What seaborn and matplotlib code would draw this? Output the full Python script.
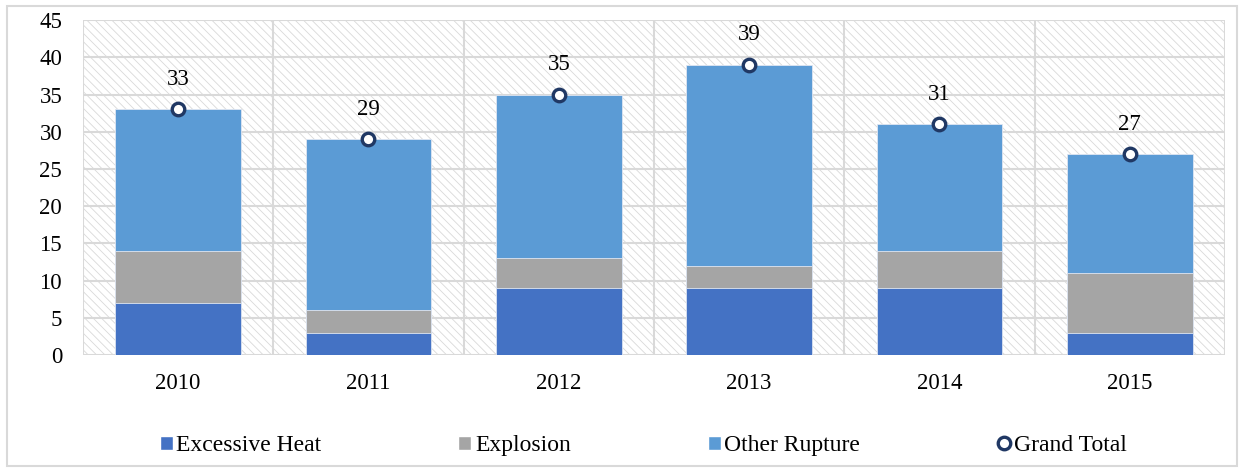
import matplotlib.pyplot as plt
import seaborn as sns
from matplotlib.lines import Line2D
from matplotlib.patches import Patch, Rectangle

years = ["2010", "2011", "2012", "2013", "2014", "2015"]
excessive_heat = [7, 3, 9, 9, 9, 3]
explosion = [7, 3, 4, 3, 5, 8]
other_rupture = [19, 23, 22, 27, 17, 16]
grand_total = [33, 29, 35, 39, 31, 27]

c_heat = "#4472C4"
c_expl = "#A5A5A5"
c_other = "#5B9BD5"
c_total = "#203864"
c_grid = "#d9d9d9"

sns.set_theme(style="white")
plt.rcParams["font.family"] = ["Liberation Serif", "DejaVu Serif"]
plt.rcParams["text.color"] = "black"
plt.rcParams["hatch.linewidth"] = 0.6
plt.rcParams["hatch.color"] = c_grid

fig = plt.figure(figsize=(12.44, 4.69), dpi=100)
ax = fig.add_axes([0.0667, 0.243, 0.918, 0.714])

# hatched plot-area background
ax.add_patch(Rectangle((0, 0), 1, 1, transform=ax.transAxes, facecolor="white",
                       edgecolor=c_grid, hatch="\\\\\\\\", linewidth=0, zorder=0))

stack_heat = excessive_heat
stack_expl = [a + b for a, b in zip(excessive_heat, explosion)]
stack_all = [a + b for a, b in zip(stack_expl, other_rupture)]

for vals, col in [(stack_all, c_other), (stack_expl, c_expl), (stack_heat, c_heat)]:
    sns.barplot(x=years, y=vals, color=col, saturation=1, width=0.66, ax=ax,
                edgecolor="#dfe6f2", linewidth=0.6, zorder=3)

sns.pointplot(x=years, y=grand_total, linestyle="none", markers="o", color=c_total,
              errorbar=None, ax=ax, markersize=9, markerfacecolor="white",
              markeredgecolor=c_total, markeredgewidth=2.4, zorder=5)
for ln in ax.lines:
    ln.set_zorder(5)

for i, v in enumerate(grand_total):
    ax.annotate(str(v), (i, v), xytext=(0, 21.5), textcoords="offset points",
                ha="center", va="center", fontsize=16.5, color="black", zorder=6)

ax.set_xlim(-0.5, 5.5)
ax.set_ylim(0, 45)
ax.set_yticks(range(0, 46, 5))
ax.set_xticks(range(6))
ax.set_xticklabels(years)
ax.set_xticks([i - 0.5 for i in range(7)], minor=True)
ax.set_axisbelow(True)
ax.grid(axis="y", which="major", color=c_grid, linewidth=1.5, zorder=1)
ax.grid(axis="x", which="minor", color=c_grid, linewidth=1.5, zorder=1)
ax.grid(axis="x", which="major", visible=False)
for s in ax.spines.values():
    s.set_visible(False)
ax.tick_params(axis="both", which="major", labelsize=16.5, length=0, colors="black")
ax.tick_params(axis="x", which="minor", length=6, width=1.5, color=c_grid, direction="out")
ax.tick_params(axis="y", pad=15)
ax.tick_params(axis="x", pad=13)
ax.set_xlabel("")
ax.set_ylabel("")

handles = [
    Patch(facecolor=c_heat, label="Excessive Heat"),
    Patch(facecolor=c_expl, label="Explosion"),
    Patch(facecolor=c_other, label="Other Rupture"),
    Line2D([], [], linestyle="none", marker="o", markersize=9, markerfacecolor="white",
           markeredgecolor=c_total, markeredgewidth=2.4, label="Grand Total"),
]
fig.legend(handles=handles, loc="center", bbox_to_anchor=(0.517, 0.05), ncol=4,
           frameon=False, fontsize=17, handlelength=0.55, handleheight=0.55,
           handletextpad=0.15, columnspacing=5.8, labelcolor="black")

fig.patches.append(Rectangle((0.006, 0.006), 0.988, 0.982, transform=fig.transFigure,
                             fill=False, edgecolor=c_grid, linewidth=1.5))

fig.savefig("out.png", dpi=100)
